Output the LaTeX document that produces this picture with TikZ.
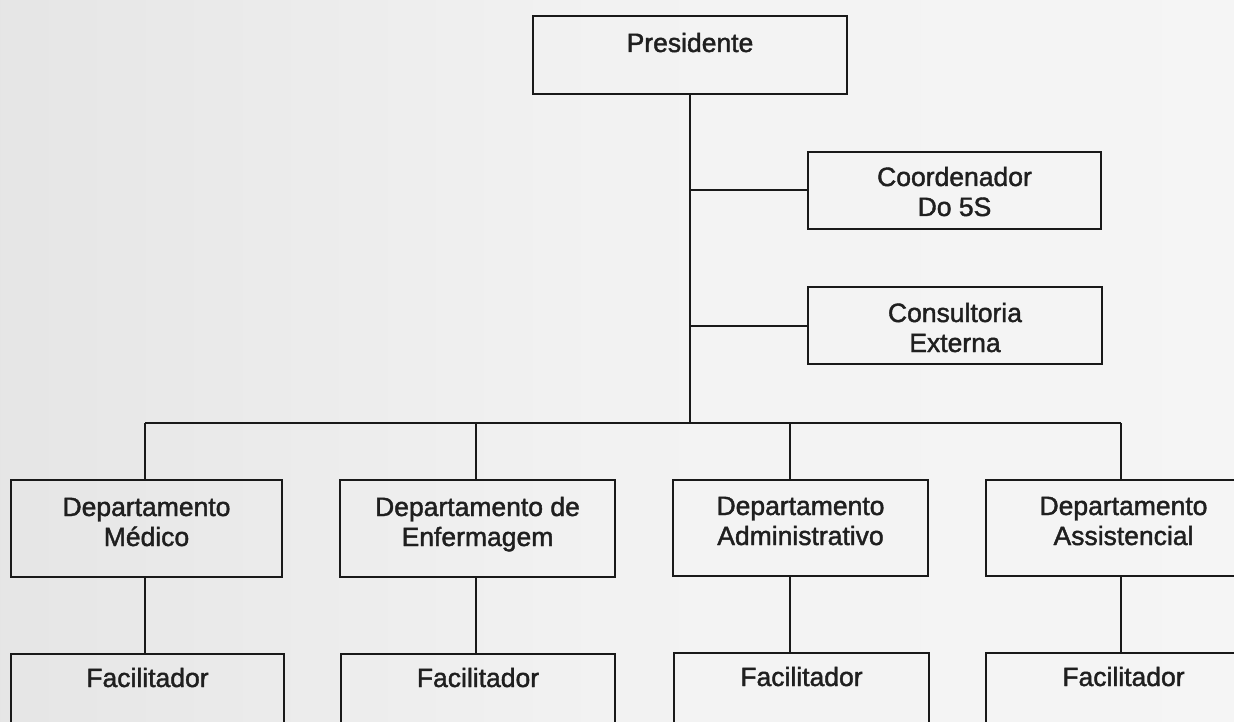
\documentclass[tikz,border=0pt]{standalone}
\usepackage{fontspec}
\setmainfont{Liberation Sans}
\newfontfamily\boxfont{Liberation Sans}[FakeBold=1.6]
\newcommand{\twol}[2]{\begin{tabular}[t]{@{}c@{}}#1\\#2\end{tabular}}
\begin{document}
\begin{tikzpicture}[x=1pt,y=-1pt,
  box/.style={draw=black!90, line width=2pt, rectangle, inner sep=0pt, anchor=north west,
    font=\boxfont\fontsize{26.5}{30}\selectfont, text=black!88},
  conn/.style={draw=black!90, line width=2pt}]
\useasboundingbox (0,0) rectangle (1234,722);
\shade[left color=black!10, right color=black!4, middle color=black!5] (0,0) rectangle (1234,722);
\clip (0,0) rectangle (1234,722);
% top
\node[box, minimum width=314pt, minimum height=78pt, text height=36pt, text depth=42pt] (pres) at (532,15) {Presidente};
\node[box, minimum width=293pt, minimum height=77pt, text height=34pt, text depth=43pt] (coord) at (807,151) {\twol{Coordenador}{Do 5S}};
\node[box, minimum width=294pt, minimum height=77pt, text height=35pt, text depth=42pt] (cons) at (807,286) {\twol{Consultoria}{Externa}};
% departments
\node[box, minimum width=271pt, minimum height=97pt, text height=36pt, text depth=61pt] (med) at (10,479) {\twol{Departamento}{Médico}};
\node[box, minimum width=275pt, minimum height=97pt, text height=36pt, text depth=61pt] (enf) at (339,479) {\twol{Departamento de}{Enfermagem}};
\node[box, minimum width=255pt, minimum height=96pt, text height=35pt, text depth=61pt] (adm) at (672,479) {\twol{Departamento}{Administrativo}};
\node[box, minimum width=275pt, minimum height=96pt, text height=35pt, text depth=61pt] (ass) at (985,479) {\twol{Departamento}{Assistencial}};
% facilitators
\node[box, minimum width=273pt, minimum height=110pt, text height=33pt, text depth=77pt] (fmed) at (10,653) {Facilitador};
\node[box, minimum width=274pt, minimum height=110pt, text height=33pt, text depth=77pt] (fenf) at (340,653) {Facilitador};
\node[box, minimum width=255pt, minimum height=110pt, text height=33pt, text depth=77pt] (fadm) at (673,652) {Facilitador};
\node[box, minimum width=275pt, minimum height=110pt, text height=33pt, text depth=77pt] (fass) at (985,652) {Facilitador};
% connector points
\coordinate (trunk) at (690,423);
\coordinate (busl) at (145,423);
\coordinate (busr) at (1121,423);
\coordinate (denf) at (476,423);
\coordinate (dadm) at (790,423);
% connectors
\draw[conn] (pres.south -| trunk) -- (trunk);
\draw[conn] (coord.west -| trunk) -- (coord.west);
\draw[conn] (cons.west -| trunk) -- (cons.west);
\draw[conn] (busl) -- (busr);
\draw[conn] (busl) -- (busl |- med.north);
\draw[conn] (denf) -- (denf |- enf.north);
\draw[conn] (dadm) -- (dadm |- adm.north);
\draw[conn] (busr) -- (busr |- ass.north);
\draw[conn] (busl |- med.south) -- (busl |- fmed.north);
\draw[conn] (denf |- enf.south) -- (denf |- fenf.north);
\draw[conn] (dadm |- adm.south) -- (dadm |- fadm.north);
\draw[conn] (busr |- ass.south) -- (busr |- fass.north);
\end{tikzpicture}
\end{document}
